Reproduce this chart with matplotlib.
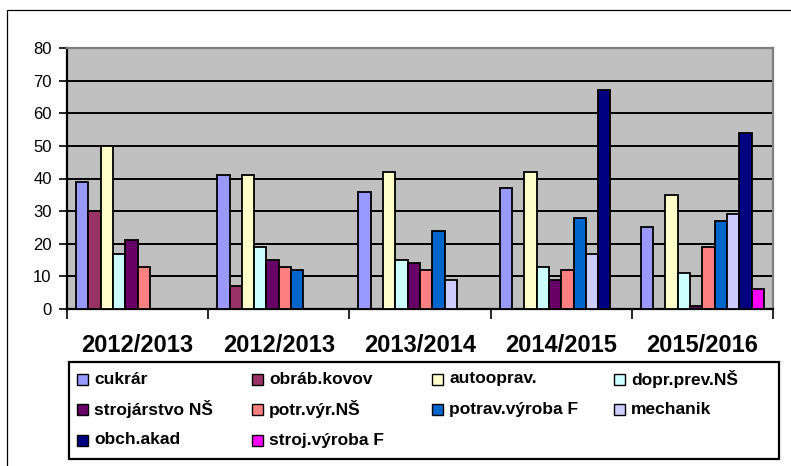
import matplotlib
matplotlib.use('Agg')
import matplotlib.pyplot as plt
from matplotlib.patches import Rectangle
import numpy as np

plt.rcParams['font.family'] = ['Liberation Sans', 'DejaVu Sans']

# categories and series (0 = no bar)
years = ['2012/2013', '2012/2013', '2013/2014', '2014/2015', '2015/2016']
series = ['cukrár', 'obráb.kovov', 'autooprav.', 'dopr.prev.NŠ',
          'strojárstvo NŠ', 'potr.výr.NŠ', 'potrav.výroba F', 'mechanik',
          'obch.akad', 'stroj.výroba F']
cukrar = [39, 41, 36, 37, 25]
obrab_kovov = [30, 7, 0, 0, 0]
autooprav = [50, 41, 42, 42, 35]
dopr_prev = [17, 19, 15, 13, 11]
strojarstvo = [21, 15, 14, 9, 1]
potr_vyr = [13, 13, 12, 12, 19]
potrav_vyroba = [0, 12, 24, 28, 27]
mechanik = [0, 0, 9, 17, 29]
obch_akad = [0, 0, 0, 67, 54]
stroj_vyroba = [0, 0, 0, 0, 6]
values = [cukrar, obrab_kovov, autooprav, dopr_prev, strojarstvo,
          potr_vyr, potrav_vyroba, mechanik, obch_akad, stroj_vyroba]
colors = ['#9999FF', '#993366', '#FFFFCC', '#CCFFFF', '#660066',
          '#FF8080', '#0066CC', '#CCCCFF', '#000080', '#FF00FF']

W, H = 791, 466
fig = plt.figure(figsize=(W / 100, H / 100), dpi=100)

# outer chart border (right/bottom fall outside the picture)
fig.patches.append(Rectangle((7 / W, -0.1), 1.2, (H - 10) / H + 0.1,
                             transform=fig.transFigure, fill=False,
                             edgecolor='black', linewidth=0.9))

# plot area
px0, px1, py0, py1 = 67, 773, 48, 309
ax = fig.add_axes([px0 / W, (H - py1) / H, (px1 - px0) / W, (py1 - py0) / H])
ax.set_facecolor('#C0C0C0')

n = len(series)
bw = 0.0872
x = np.arange(len(years)) + 0.5
for j, (name, vals, c) in enumerate(zip(series, values, colors)):
    v = np.array(vals, dtype=float)
    m = v > 0
    ax.bar(x[m] + (j - (n - 1) / 2) * bw, v[m], width=bw, color=c,
           edgecolor='black', linewidth=1.3, zorder=3, label=name)

ax.set_xlim(0, len(years))
ax.set_ylim(0, 80)
ax.set_yticks(range(0, 81, 10))
ax.yaxis.grid(True, color='black', linewidth=1.4, zorder=1)
ax.set_axisbelow(True)
ax.tick_params(axis='y', labelsize=12, length=6, width=1.2, pad=5)
ax.set_xticks(range(len(years) + 1))
ax.set_xticklabels([])
ax.tick_params(axis='x', length=7, width=1.2)
for i, lab in enumerate(years):
    fig.text((px0 + (px1 - px0) * (i + 0.5) / len(years)) / W, 1 - 345 / H, lab,
             ha='center', va='center', fontsize=17, fontweight='bold')

for s in ['left', 'bottom']:
    ax.spines[s].set_linewidth(1.6)
    ax.spines[s].set_color('black')
for s in ['top', 'right']:
    ax.spines[s].set_linewidth(1.6)
    ax.spines[s].set_color('#808080')

# legend box
lx0, lx1, ly0, ly1 = 69, 779, 362, 459
fig.patches.append(Rectangle((lx0 / W, 1 - ly1 / H), (lx1 - lx0) / W,
                             (ly1 - ly0) / H, transform=fig.transFigure,
                             fill=False, edgecolor='black', linewidth=1.6))
col_x = [77, 252, 432, 614]
row_y = [379, 409.5, 440]
for k, (name, c) in enumerate(zip(series, colors)):
    cx = col_x[k % 4]
    cy = row_y[k // 4]
    fig.patches.append(Rectangle((cx / W, 1 - (cy + 5.5) / H), 11 / W, 11 / H,
                                 transform=fig.transFigure, facecolor=c,
                                 edgecolor='black', linewidth=1.0))
    fig.text((cx + 17) / W, 1 - cy / H, name, ha='left', va='center',
             fontsize=12.5, fontweight='bold')

plt.savefig('out.png', dpi=100)
